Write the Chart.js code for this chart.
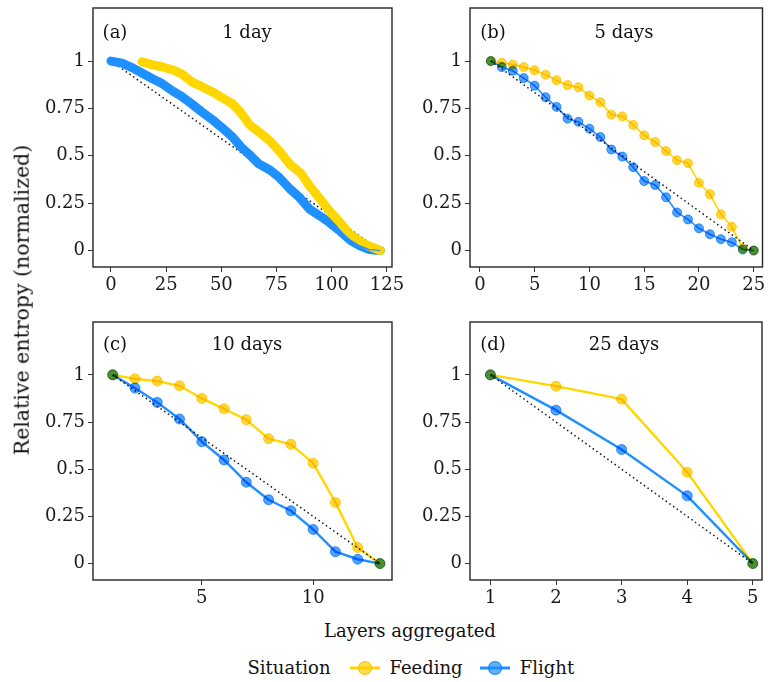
<!DOCTYPE html>
<html><head><meta charset="utf-8">
<script src="https://cdn.jsdelivr.net/npm/chart.js@4/dist/chart.umd.min.js"></script>
<style>
body{margin:0;background:#fff;width:768px;height:682px;position:relative;overflow:hidden;font-family:"DejaVu Serif",serif;color:#111}
canvas{position:absolute}
.t{position:absolute;font-size:18px;line-height:1.2;white-space:nowrap;transform:translate(-50%,-50%)}
.ln{position:absolute;height:3px;width:30px;transform:translateY(-50%)}
.dot{position:absolute;width:12px;height:12px;border-radius:50%;transform:translate(-50%,-50%)}
</style></head><body>
<canvas id="ca" width="420" height="300" style="left:0;top:0"></canvas>
<canvas id="cb" width="368" height="300" style="left:400px;top:0"></canvas>
<canvas id="cc" width="420" height="320" style="left:0;top:300px"></canvas>
<canvas id="cd" width="368" height="320" style="left:400px;top:300px"></canvas>

<div class="t" style="left:115px;top:32px">(a)</div>
<div class="t" style="left:247px;top:32px">1 day</div>
<div class="t" style="left:493px;top:32px">(b)</div>
<div class="t" style="left:624px;top:32px">5 days</div>
<div class="t" style="left:115px;top:344px">(c)</div>
<div class="t" style="left:247px;top:344px">10 days</div>
<div class="t" style="left:493px;top:344px">(d)</div>
<div class="t" style="left:624px;top:344px">25 days</div>

<div class="t" style="left:22px;top:300px;font-size:20.5px;transform:translate(-50%,-50%) rotate(-90deg)">Relative entropy (normalized)</div>
<div class="t" style="left:410px;top:631px">Layers aggregated</div>

<div class="t" style="left:289px;top:668px">Situation</div>
<div class="ln" style="left:350px;top:668px;background:#FFD700"></div>
<div class="dot" style="left:365px;top:668px;background:rgba(255,205,0,0.7);border:1px solid rgba(240,190,0,0.8)"></div>
<div class="t" style="left:426px;top:668px">Feeding</div>
<div class="ln" style="left:480px;top:668px;background:#1E90FF"></div>
<div class="dot" style="left:495px;top:668px;background:rgba(30,144,255,0.7);border:1px solid rgba(20,120,230,0.8)"></div>
<div class="t" style="left:547px;top:668px">Flight</div>

<script>
// ---------- data ----------
const yTickValues = [0, 0.25, 0.5, 0.75, 1];
const yTickLabels = ['0', '0.25', '0.5', '0.75', '1'];

// (a) 1 day
const aFlightX  = [0,5,10,14,19,23,28,32,37,41,46,50,55,59,63,67,72,76,81,85,90,95,99,104,108,113,117,122];
const aFlightY  = [1,0.989,0.963,0.937,0.905,0.882,0.841,0.813,0.770,0.733,0.690,0.651,0.600,0.545,0.503,0.457,0.425,0.388,0.326,0.285,0.218,0.180,0.147,0.100,0.058,0.023,0.005,0];
const aFeedX    = [14,19,23,28,32,35,37,41,46,50,55,57,59,63,68,72,77,81,86,90,95,99,104,108,113,117,122];
const aFeedY    = [0.996,0.980,0.970,0.953,0.932,0.905,0.887,0.866,0.837,0.808,0.775,0.750,0.725,0.661,0.617,0.578,0.515,0.455,0.408,0.340,0.268,0.208,0.145,0.088,0.048,0.023,0];
const aRefX     = [0,122];
const aRefY     = [1,0];
const aTicks    = [0,25,50,75,100,125];

// (b) 5 days
const bX        = [1,2,3,4,5,6,7,8,9,10,11,12,13,14,15,16,17,18,19,20,21,22,23,24,25];
const bFeedY    = [1,0.991,0.981,0.968,0.952,0.928,0.899,0.873,0.862,0.818,0.783,0.717,0.708,0.663,0.608,0.573,0.525,0.477,0.461,0.357,0.297,0.191,0.125,0.011,0];
const bFlightY  = [1,0.968,0.949,0.910,0.870,0.809,0.758,0.696,0.679,0.643,0.599,0.533,0.496,0.440,0.367,0.346,0.281,0.201,0.164,0.117,0.086,0.060,0.044,0.005,0];
const bRefX     = [1,25];
const bRefY     = [1,0];
const bTicks    = [0,5,10,15,20,25];

// (c) 10 days
const cX        = [1,2,3,4,5,6,7,8,9,10,11,12,13];
const cFeedY    = [1,0.979,0.967,0.942,0.875,0.820,0.762,0.662,0.632,0.532,0.324,0.085,0];
const cFlightY  = [1,0.930,0.854,0.766,0.646,0.549,0.431,0.338,0.280,0.181,0.063,0.023,0];
const cRefX     = [1,13];
const cRefY     = [1,0];
const cTicks    = [5,10];

// (d) 25 days
const dX        = [1,2,3,4,5];
const dFeedY    = [1,0.940,0.871,0.484,0];
const dFlightY  = [1,0.813,0.604,0.359,0];
const dRefX     = [1,5];
const dRefY     = [1,0];
const dTicks    = [1,2,3,4,5];

// ---------- styling ----------
const FONT = {family: '"DejaVu Serif", serif', size: 18};
const YEL = '#FFD700', BLU = '#1E90FF';
const YEL_PT = 'rgba(255,208,0,0.8)', BLU_PT = 'rgba(30,144,255,0.8)';

const zip = (xs, ys) => xs.map((x, i) => ({x, y: ys[i]}));

const boxPlugin = {
  id: 'box',
  beforeDatasetsDraw(chart, args, opts) {
    if (opts.multiply) { chart.ctx.save(); chart.ctx.globalCompositeOperation = 'multiply'; }
  },
  afterDatasetsDraw(chart, args, opts) {
    if (opts.multiply) chart.ctx.restore();
    const a = chart.chartArea, ctx = chart.ctx;
    ctx.save();
    ctx.strokeStyle = '#262626';
    ctx.lineWidth = 1.4;
    ctx.strokeRect(a.left, a.top, a.right - a.left, a.bottom - a.top);
    ctx.restore();
  }
};

function refSet(xs, ys) {
  return {data: zip(xs, ys), borderColor: '#111', borderWidth: 1.5, borderDash: [1.5, 3],
    pointRadius: 0, order: 20, tension: 0};
}
function lineSet(xs, ys, color, ptColor, lw, r, order) {
  return {data: zip(xs, ys), borderColor: color, borderWidth: lw, tension: 0,
    pointRadius: r, pointBackgroundColor: ptColor, pointBorderColor: ptColor, pointBorderWidth: 1,
    order};
}

function makeChart(id, datasets, o) {
  new Chart(document.getElementById(id), {
    type: 'line',
    data: {datasets},
    options: {
      responsive: false, animation: false, devicePixelRatio: 1,
      events: [],
      layout: {padding: {left: 0, right: o.padR, top: o.padT, bottom: 0}},
      plugins: {legend: {display: false}, tooltip: {enabled: false}, box: {multiply: o.multiply}},
      scales: {
        x: {
          type: 'linear', min: o.xMin, max: o.xMax,
          afterBuildTicks: s => { s.ticks = o.xTicks.map(v => ({value: v})); },
          afterFit: s => { s.height = o.xH; s.paddingLeft = 0; s.paddingRight = 0; },
          ticks: {font: FONT, color: '#1a1a1a', padding: 3, maxRotation: 0, autoSkip: false,
            callback: v => String(v)},
          grid: {display: true, drawOnChartArea: false, drawTicks: true, tickLength: 5, color: '#333', lineWidth: 1},
          border: {display: false}
        },
        y: {
          type: 'linear', min: -0.087, max: 1.28,
          afterBuildTicks: s => { s.ticks = yTickValues.map(v => ({value: v})); },
          afterFit: s => { s.width = o.yW; s.paddingTop = 0; s.paddingBottom = 0; },
          ticks: {font: FONT, color: '#1a1a1a', padding: 3, autoSkip: false,
            callback: v => yTickLabels[yTickValues.indexOf(v)]},
          grid: {display: true, drawOnChartArea: false, drawTicks: true, tickLength: 5, color: '#333', lineWidth: 1},
          border: {display: false}
        }
      }
    },
    plugins: [boxPlugin]
  });
}

// (a)
makeChart('ca', [
  refSet(aRefX, aRefY),
  Object.assign(lineSet(aFlightX, aFlightY, BLU, BLU, 9, 0, 8), {borderCapStyle: 'round', borderJoinStyle: 'round'}),
  Object.assign(lineSet(aFeedX, aFeedY, YEL, YEL, 9, 0, 7), {borderCapStyle: 'round', borderJoinStyle: 'round'}),
  lineSet(aFeedX, aFeedY, YEL, YEL, 1.2, 0, 6),
  lineSet(aFlightX, aFlightY, BLU, BLU, 1.2, 0, 5)
], {xMin: -8.15, xMax: 127.3, xTicks: aTicks, padR: 28, padT: 8, xH: 33, yW: 93, multiply: false});

// (b)
makeChart('cb', [
  refSet(bRefX, bRefY),
  lineSet(bX, bFeedY, YEL, YEL_PT, 1.6, 4.5, 8),
  lineSet(bX, bFlightY, BLU, BLU_PT, 1.6, 4.5, 7)
], {xMin: -0.9, xMax: 25.8, xTicks: bTicks, padR: 2, padT: 8, xH: 33, yW: 70, multiply: true});

// (c)
makeChart('cc', [
  refSet(cRefX, cRefY),
  lineSet(cX, cFeedY, YEL, YEL_PT, 2.4, 5, 8),
  lineSet(cX, cFlightY, BLU, BLU_PT, 2.4, 5, 7)
], {xMin: 0.116, xMax: 13.54, xTicks: cTicks, padR: 28, padT: 22, xH: 40, yW: 93, multiply: true});

// (d)
makeChart('cd', [
  refSet(dRefX, dRefY),
  lineSet(dX, dFeedY, YEL, YEL_PT, 2.4, 5, 8),
  lineSet(dX, dFlightY, BLU, BLU_PT, 2.4, 5, 7)
], {xMin: 0.689, xMax: 5.14, xTicks: dTicks, padR: 2, padT: 22, xH: 40, yW: 70, multiply: true});
</script>
</body></html>
